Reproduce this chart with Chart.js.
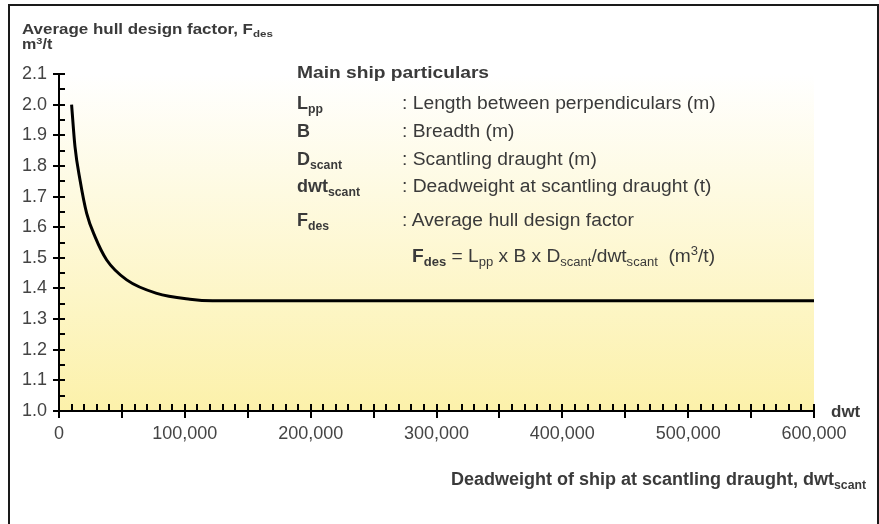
<!DOCTYPE html>
<html lang="en">
<head>
<meta charset="UTF-8" />
<title>Average hull design factor</title>
<script src="https://cdn.jsdelivr.net/npm/chart.js"></script>
<style>
  html, body { margin: 0; padding: 0; background: #fff; }
  body { width: 879px; height: 524px; position: relative; overflow: hidden;
         font-family: "Liberation Sans", Arial, sans-serif; color: #3a3a3a; }
  #frame { position: absolute; left: 8px; top: 4px; width: 871px; height: 560px;
           box-sizing: border-box; border: 2px solid #1a1a1a; border-bottom: none; }
  canvas { position: absolute; left: 0; top: 0; }
  .txt { position: absolute; white-space: nowrap; line-height: 1; }
  .wide { display: inline-block; transform-origin: 0 0; }
  sub, sup { font-size: 0.68em; line-height: 0; position: relative; vertical-align: baseline; }
  sub { top: 0.3em; }
  sup { top: -0.55em; }
  .b { font-weight: bold; }
</style>
</head>
<body>
  <div id="frame"></div>
  <canvas id="chart" width="879" height="524"></canvas>

  <div class="txt b" style="left:22px; top:22px; font-size:14px;"><span class="wide" style="transform:scaleX(1.21)">Average hull design factor, F<sub>des</sub></span></div>
  <div class="txt b" style="left:22px; top:37px; font-size:14px;"><span class="wide" style="transform:scaleX(1.15)">m<sup>3</sup>/t</span></div>

  <div class="txt b" style="left:297px; top:65px; font-size:16px;"><span class="wide" style="transform:scaleX(1.2)">Main ship particulars</span></div>

  <div class="txt b" style="left:297px; top:94px; font-size:18px;">L<sub>pp</sub></div>
  <div class="txt" style="left:402px; top:94px; font-size:18px;"><span class="wide" style="transform:scaleX(1.07)">: Length between perpendiculars (m)</span></div>
  <div class="txt b" style="left:297px; top:122px; font-size:18px;">B</div>
  <div class="txt" style="left:402px; top:122px; font-size:18px;"><span class="wide" style="transform:scaleX(1.07)">: Breadth (m)</span></div>
  <div class="txt b" style="left:297px; top:150px; font-size:18px;">D<sub>scant</sub></div>
  <div class="txt" style="left:402px; top:150px; font-size:18px;"><span class="wide" style="transform:scaleX(1.07)">: Scantling draught (m)</span></div>
  <div class="txt b" style="left:297px; top:177px; font-size:18px;">dwt<sub>scant</sub></div>
  <div class="txt" style="left:402px; top:177px; font-size:18px;"><span class="wide" style="transform:scaleX(1.07)">: Deadweight at scantling draught (t)</span></div>
  <div class="txt b" style="left:297px; top:211px; font-size:18px;">F<sub>des</sub></div>
  <div class="txt" style="left:402px; top:211px; font-size:18px;"><span class="wide" style="transform:scaleX(1.07)">: Average hull design factor</span></div>
  <div class="txt" style="left:412px; top:247px; font-size:18px;"><span class="wide" style="transform:scaleX(1.065)"><b>F<sub>des</sub></b> = L<sub>pp</sub> x B x D<sub>scant</sub>/dwt<sub>scant</sub>&nbsp; (m<sup>3</sup>/t)</span></div>

  <div class="txt b" style="left:831px; top:403px; font-size:17px;">dwt</div>
  <div class="txt b" style="right:13px; top:470px; font-size:18px;">Deadweight of ship at scantling draught, dwt<sub>scant</sub></div>

  <script>
    // deadweight (t) and average hull design factor (m3/t)
    const dwtValues = [10000, 12700, 16700, 22000, 28600, 37900, 53800, 77700, 104000, 122000, 600000];
    const fdesValues = [2.00, 1.863, 1.754, 1.645, 1.569, 1.493, 1.428, 1.384, 1.365, 1.36, 1.36];

    const xTickValues = [0, 100000, 200000, 300000, 400000, 500000, 600000];
    const yTickValues = [1.0, 1.1, 1.2, 1.3, 1.4, 1.5, 1.6, 1.7, 1.8, 1.9, 2.0, 2.1];

    const xMin = 0, xMax = 600000;
    const yMin = 1.0, yMax = 2.1;

    const bgPlugin = {
      id: "plotBackground",
      beforeDatasetsDraw(chart) {
        const { ctx, chartArea: a } = chart;
        const g = ctx.createLinearGradient(0, a.top, 0, a.bottom);
        g.addColorStop(0, "#ffffff");
        g.addColorStop(1, "#fcf1aa");
        ctx.save();
        ctx.fillStyle = g;
        ctx.fillRect(a.left, a.top, a.right - a.left, a.bottom - a.top);
        ctx.restore();
      }
    };

    // axis lines with the little tick marks the original uses
    const axisPlugin = {
      id: "hullAxes",
      afterDatasetsDraw(chart) {
        const { ctx, scales: { x, y } } = chart;
        const x0 = Math.round(x.getPixelForValue(xMin));
        const x1 = Math.round(x.getPixelForValue(xMax));
        const y0 = Math.round(y.getPixelForValue(yMin));
        const y1 = Math.round(y.getPixelForValue(yMax));
        ctx.save();
        ctx.strokeStyle = "#000";
        ctx.lineWidth = 2;
        ctx.beginPath();
        ctx.moveTo(x0, y1);
        ctx.lineTo(x0, y0);
        ctx.lineTo(x1, y0);
        for (let v = xMin; v <= xMax; v += 10000) {
          const px = Math.round(x.getPixelForValue(v));
          ctx.moveTo(px, y0 - 7);
          ctx.lineTo(px, v % 50000 === 0 ? y0 + 7 : y0);
        }
        for (let i = 0; i <= 22; i++) {
          const py = Math.round(y.getPixelForValue(yMin + i * 0.05));
          ctx.moveTo(i % 2 === 0 ? x0 - 6 : x0, py);
          ctx.lineTo(x0 + 6, py);
        }
        ctx.stroke();
        ctx.restore();
      }
    };

    const ctx = document.getElementById("chart").getContext("2d");

    new Chart(ctx, {
      type: "line",
      data: {
        datasets: [{
          data: dwtValues.map((d, i) => ({ x: d, y: fdesValues[i] })),
          borderColor: "#000",
          borderWidth: 3,
          pointRadius: 0,
          cubicInterpolationMode: "monotone",
          fill: false
        }]
      },
      options: {
        responsive: false,
        animation: false,
        devicePixelRatio: 1,
        layout: { padding: { left: 0, top: 74, right: 65, bottom: 0 } },
        plugins: { legend: { display: false }, tooltip: { enabled: false } },
        scales: {
          x: {
            type: "linear",
            min: xMin,
            max: xMax,
            grid: { display: false, drawTicks: false },
            border: { display: false },
            afterBuildTicks: s => { s.ticks = xTickValues.map(v => ({ value: v })); },
            afterFit: s => { s.height = 113; },
            ticks: {
              padding: 12,
              maxRotation: 0,
              color: "#444",
              font: { family: "Liberation Sans", size: 18 },
              callback: v => v.toLocaleString("en-US")
            }
          },
          y: {
            type: "linear",
            min: yMin,
            max: yMax,
            grid: { display: false, drawTicks: false },
            border: { display: false },
            afterBuildTicks: s => { s.ticks = yTickValues.map(v => ({ value: v })); },
            afterFit: s => { s.width = 59; },
            ticks: {
              padding: 12,
              color: "#444",
              font: { family: "Liberation Sans", size: 18 },
              callback: v => v.toFixed(1)
            }
          }
        }
      },
      plugins: [bgPlugin, axisPlugin]
    });
  </script>
</body>
</html>
